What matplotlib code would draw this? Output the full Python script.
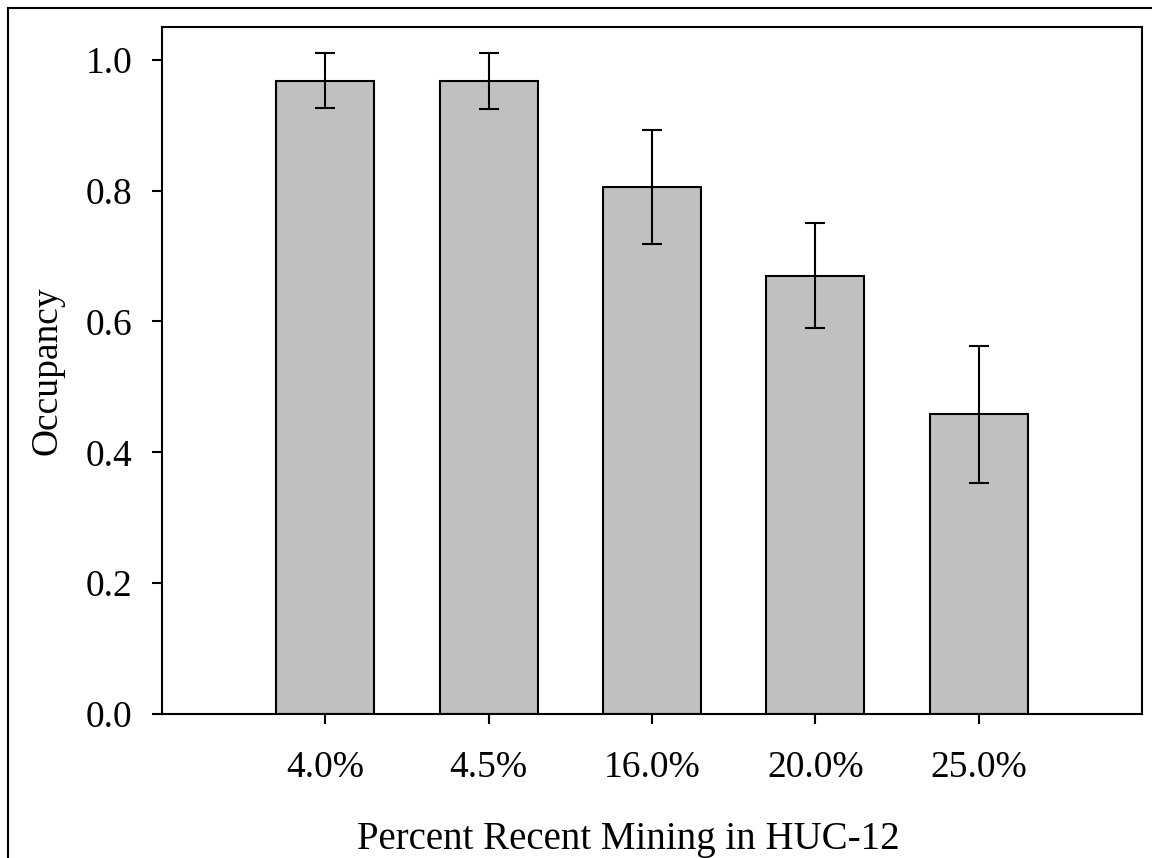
import matplotlib
matplotlib.use("Agg")
import matplotlib.pyplot as plt
from matplotlib.patches import Rectangle

# data
categories = ["4.0%", "4.5%", "16.0%", "20.0%", "25.0%"]
occupancy = [0.968, 0.967, 0.806, 0.670, 0.458]
errors = [0.042, 0.043, 0.087, 0.080, 0.105]

plt.rcParams['font.family'] = ['Liberation Serif', 'DejaVu Serif']

fig = plt.figure(figsize=(11.52, 8.58), dpi=100)
ax = fig.add_axes([162 / 1152, 1 - 714 / 858, 980 / 1152, 687 / 858])

x = list(range(len(categories)))
ax.bar(x, occupancy, width=0.6, color='#c0c0c0', edgecolor='black',
       linewidth=1.5, zorder=2)
ax.errorbar(x, occupancy, yerr=errors, fmt='none', ecolor='black',
            elinewidth=1.5, capsize=7.2, capthick=1.5, zorder=3)

ax.set_xlim(-1, 5)
ax.set_ylim(0, 1.05)
ax.set_xticks(x)
ax.set_xticklabels(categories)
ax.set_yticks([0.0, 0.2, 0.4, 0.6, 0.8, 1.0])
ax.set_yticklabels(["0.0", "0.2", "0.4", "0.6", "0.8", "1.0"])

for s in ax.spines.values():
    s.set_linewidth(1.5)
ax.tick_params(axis='both', direction='out', length=7.2, width=1.5,
               labelsize=27, top=False, right=False)
ax.tick_params(axis='y', pad=14)
ax.tick_params(axis='x', pad=19)

ax.set_ylabel("Occupancy", fontsize=27)
ax.set_xlabel("Percent Recent Mining in HUC-12", fontsize=28)
ax.yaxis.set_label_coords(-0.099, 0.5)
ax.xaxis.set_label_coords(0.4755, -0.156)
ax.xaxis.label.set_va('top')

# outer frame (top and left edges visible, rest runs off the image)
fig.patches.append(Rectangle((8 / 1152, -0.2), 1.5, 1.2 - 8 / 858,
                             transform=fig.transFigure, fill=False,
                             edgecolor='black', linewidth=1.5))

fig.savefig("out.png", dpi=100)
